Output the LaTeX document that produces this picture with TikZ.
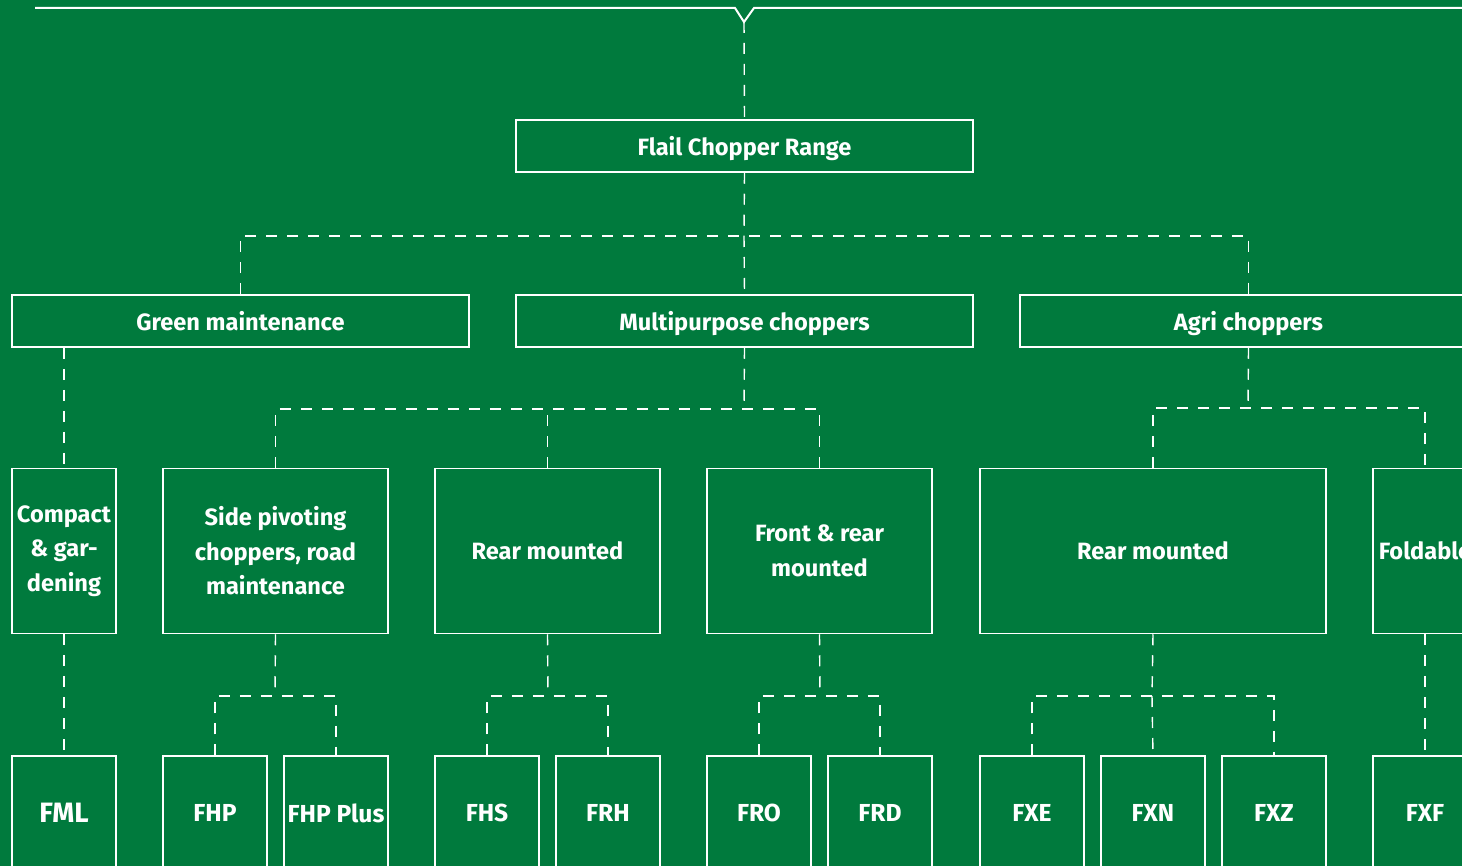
\documentclass[tikz,border=0pt]{standalone}
\usepackage{fontspec}
\setmainfont{Fira Sans}
\usepackage{tikz}
\definecolor{flailgreen}{RGB}{0,122,61}

\tikzset{
  box/.style={draw=white, line width=0.75pt, text=white, inner sep=0pt,
    align=center, font=\bfseries\fontsize{11.8}{17.25}\selectfont},
  wide/.style={box, minimum width=228.5pt, minimum height=26pt, text depth=0pt},
  tall/.style={box, minimum height=82.5pt},
  leaf/.style={box, minimum width=52pt, minimum height=57pt,
    font=\bfseries\fontsize{12.3}{15}\selectfont},
  link/.style={draw=white, line width=0.7pt, dash pattern=on 5.5pt off 5pt}
}

\begin{document}
\begin{tikzpicture}[x=0.5pt,y=-0.5pt]

% Background
\useasboundingbox (0,0) rectangle (1462,866);
\fill[flailgreen] (0,0) rectangle (1462,866);
\clip (0,0) rectangle (1462,866);

% Top rule with notch
\draw[white, line width=1pt] (35,8) -- (735,8) -- (744,22) -- (754,8) -- (1462,8);
\coordinate (notch) at (744,22);

% Top level
\node[wide] (range) at (744.5,146) {Flail Chopper Range};

% Second level
\node[wide] (green) at (240.5,321) {Green maintenance};
\node[wide] (multi) at (744.5,321) {Multipurpose choppers};
\node[wide] (agri)  at (1248.5,321) {Agri choppers};

% Third level
\node[tall, minimum width=52pt]  (compact) at (64,551)    {Compact\\\& gar-\\dening};
\node[tall, minimum width=112.5pt] (side)  at (275.5,551) {Side pivoting\\choppers, road\\maintenance};
\node[tall, minimum width=112.5pt] (rear)  at (547.5,551) {Rear mounted};
\node[tall, minimum width=112.5pt] (front) at (819.5,551) {Front \& rear\\mounted};
\node[tall, minimum width=173pt]   (agrirear) at (1153,551) {Rear mounted};
\node[tall, minimum width=52pt]    (fold)  at (1425,551)  {Foldable};

% Bottom level
\node[leaf, font=\bfseries\fontsize{14}{15}\selectfont] (fml) at (64,813) {FML};
\node[leaf] (fhp)  at (215,813)  {FHP};
\node[leaf] (fhpp) at (336,813)  {FHP Plus};
\node[leaf] (fhs)  at (487,813)  {FHS};
\node[leaf] (frh)  at (608,813)  {FRH};
\node[leaf] (fro)  at (759,813)  {FRO};
\node[leaf] (frd)  at (880,813)  {FRD};
\node[leaf] (fxe)  at (1032,813) {FXE};
\node[leaf] (fxn)  at (1153,813) {FXN};
\node[leaf] (fxz)  at (1274,813) {FXZ};
\node[leaf] (fxf)  at (1425,813) {FXF};

% Junction points
\coordinate (j1) at (744,236);
\coordinate (j2) at (744,409);
\coordinate (j3) at (1248,408);
\coordinate (j4) at (275,696);
\coordinate (j5) at (548,696);
\coordinate (j6) at (820,696);
\coordinate (j7) at (1152,696);

% Connectors
\draw[link] (notch) -- (range.north);
\draw[link] (range.south) -- (j1);
\draw[link] (green.north) |- (j1) -| (agri.north);
\draw[link] (j1) -- (multi.north);

\draw[link] (green.south -| compact.north) -- (compact.north);
\draw[link] (multi.south) -- (j2);
\draw[link] (side.north) |- (j2) -| (front.north);
\draw[link] (rear.north) -- (rear.north |- j2);
\draw[link] (agri.south) -- (j3);
\draw[link] (agrirear.north) |- (j3) -| (fold.north);

\draw[link] (compact.south) -- (fml.north);
\draw[link] (side.south) -- (j4);
\draw[link] (fhp.north) |- (j4) -| (fhpp.north);
\draw[link] (rear.south) -- (j5);
\draw[link] (fhs.north) |- (j5) -| (frh.north);
\draw[link] (front.south) -- (j6);
\draw[link] (fro.north) |- (j6) -| (frd.north);
\draw[link] (agrirear.south) -- (j7);
\draw[link] (fxe.north) |- (j7) -| (fxz.north);
\draw[link] (j7) -- (fxn.north);
\draw[link] (fold.south) -- (fxf.north);

\end{tikzpicture}
\end{document}
